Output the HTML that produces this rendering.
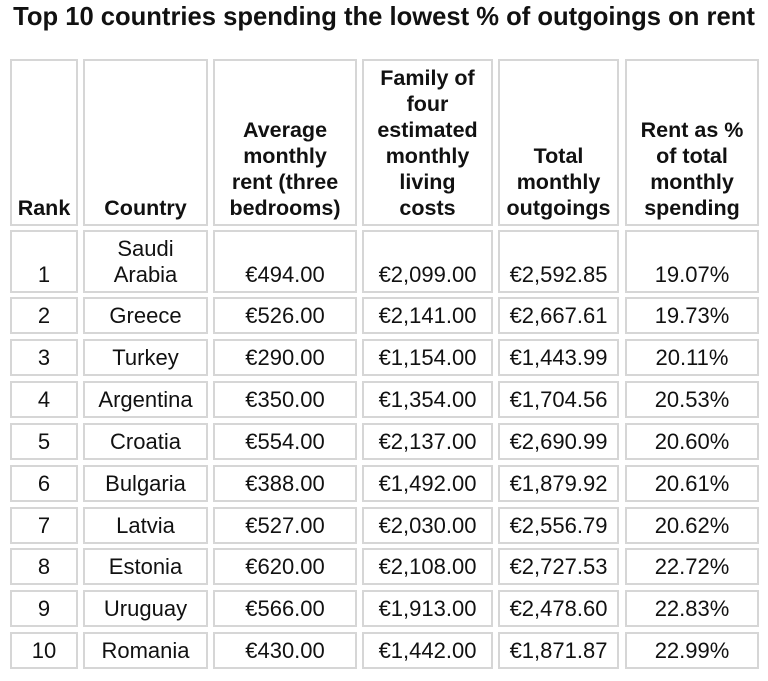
<!DOCTYPE html>
<html><head><meta charset="utf-8"><style>
body{margin:0;width:768px;height:681px;background:#fff;position:relative;overflow:hidden;font-family:"Liberation Sans",Arial,sans-serif;color:#111}
.t{position:absolute;left:0;width:768px;top:3px;text-align:center;font-weight:bold;font-size:25.6px;white-space:nowrap}
.c{position:absolute;box-sizing:border-box;border:2px solid #d6d6d6;display:flex;align-items:flex-end;justify-content:center;text-align:center;font-size:22px;line-height:26px;padding-bottom:3px;white-space:nowrap}
.h{font-weight:bold;font-size:21.5px}
.m{align-items:center;padding-bottom:0}
</style></head><body>
<div class="t">Top 10 countries spending the lowest % of outgoings on rent</div>
<div id="g"></div>
<script>
var xs=[[10,78],[83,208],[213,357],[362,493],[498,619],[625,759]];
var H=["Rank","Country","Average<br>monthly<br>rent (three<br>bedrooms)","Family of<br>four<br>estimated<br>monthly<br>living<br>costs","Total<br>monthly<br>outgoings","Rent as %<br>of total<br>monthly<br>spending"];
var R=[["1","Saudi<br>Arabia","€494.00","€2,099.00","€2,592.85","19.07%"],
["2","Greece","€526.00","€2,141.00","€2,667.61","19.73%"],
["3","Turkey","€290.00","€1,154.00","€1,443.99","20.11%"],
["4","Argentina","€350.00","€1,354.00","€1,704.56","20.53%"],
["5","Croatia","€554.00","€2,137.00","€2,690.99","20.60%"],
["6","Bulgaria","€388.00","€1,492.00","€1,879.92","20.61%"],
["7","Latvia","€527.00","€2,030.00","€2,556.79","20.62%"],
["8","Estonia","€620.00","€2,108.00","€2,727.53","22.72%"],
["9","Uruguay","€566.00","€1,913.00","€2,478.60","22.83%"],
["10","Romania","€430.00","€1,442.00","€1,871.87","22.99%"]];
var s="";
function cell(x,y,h,txt,cls){s+='<div class="c '+cls+'" style="left:'+x[0]+'px;top:'+y+'px;width:'+(x[1]-x[0])+'px;height:'+h+'px">'+txt+'</div>';}
for(var i=0;i<6;i++)cell(xs[i],59,167,'<div>'+H[i]+'</div>','h');
for(var i=0;i<6;i++)cell(xs[i],230,63,'<div>'+R[0][i]+'</div>','');
for(var r=1;r<10;r++){var y=Math.round(297+(r-1)*41.9);for(var i=0;i<6;i++)cell(xs[i],y,37,R[r][i],'m');}
document.getElementById('g').innerHTML=s;
</script>
</body></html>
